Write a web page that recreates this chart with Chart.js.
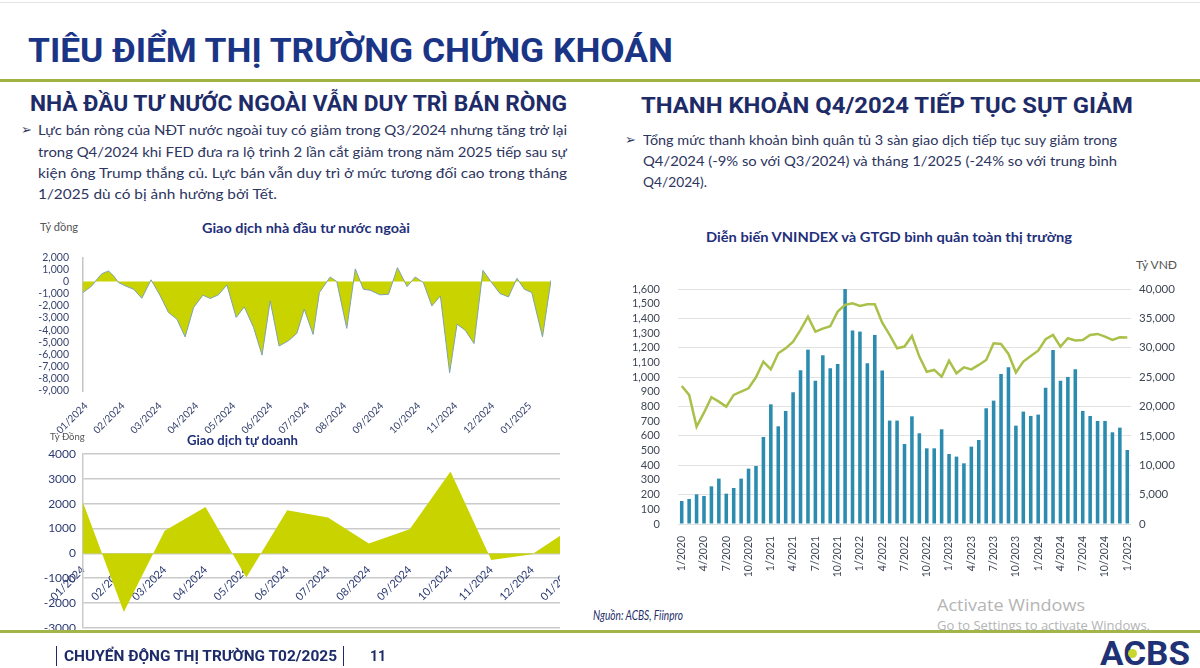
<!DOCTYPE html>
<html lang="vi">
<head>
<meta charset="utf-8">
<title>Tiêu điểm thị trường chứng khoán</title>
<script src="https://cdn.jsdelivr.net/npm/chart.js@4.4.1/dist/chart.umd.min.js"></script>
<style>
  body { margin: 0; width: 1200px; height: 668px; position: relative; overflow: hidden; background: #fff; font-family: Lato, "Open Sans", sans-serif; }
  .t { position: absolute; white-space: nowrap; transform-origin: 0 50%; }
  .tieude { font-family: Roboto; font-weight: 700; color: #1b3586; }
  .muc { font-family: Roboto; font-weight: 700; color: #1d2b68; }
  .van { font-size: 14px; line-height: 20px; color: #2d3560; }
  .dau { font-family: "DejaVu Sans"; font-size: 13px; line-height: 20px; color: #2d3560; }
  .bieu { font-weight: 700; font-size: 13px; line-height: 16px; color: #1f2f7a; }
  .donvi { color: #555; }
  .ke { position: absolute; left: 0; width: 1200px; }
  .dung { position: absolute; width: 1px; background: #1d2b68; }
  canvas { position: absolute; }
</style>
</head>
<body>
<div class="ke" style="top:2px;height:1px;background:#e4e4e4"></div>
<div class="t tieude" data-w="645" style="left:28px;top:30px;font-size:34px;line-height:40px">TIÊU ĐIỂM THỊ TRƯỜNG CHỨNG KHOÁN</div>
<div class="ke" style="top:79px;height:3px;background:#9fb343"></div>

<div class="t muc" data-w="537" style="left:30px;top:91px;font-size:22px;line-height:26px">NHÀ ĐẦU TƯ NƯỚC NGOÀI VẪN DUY TRÌ BÁN RÒNG</div>
<div class="t muc" data-w="492" style="left:641px;top:93px;font-size:22px;line-height:26px">THANH KHOẢN Q4/2024 TIẾP TỤC SỤT GIẢM</div>

<div class="t dau" style="left:21px;top:120px">➢</div>
<div class="t van" data-w="529" style="left:38px;top:120px">Lực bán ròng của NĐT nước ngoài tuy có giảm trong Q3/2024 nhưng tăng trở lại</div>
<div class="t van" data-w="529" style="left:38px;top:142px">trong Q4/2024 khi FED đưa ra lộ trình 2 lần cắt giảm trong năm 2025 tiếp sau sự</div>
<div class="t van" data-w="529" style="left:38px;top:163px">kiện ông Trump thắng củ. Lực bán vẫn duy trì ở mức tương đối cao trong tháng</div>
<div class="t van" data-w="239" style="left:38px;top:184px">1/2025 dù có bị ảnh hưởng bởi Tết.</div>

<div class="t dau" style="left:625px;top:130px">➢</div>
<div class="t van" data-w="474" style="left:643px;top:130px">Tổng mức thanh khoản bình quân tủ 3 sàn giao dịch tiếp tục suy giảm trong</div>
<div class="t van" data-w="474" style="left:643px;top:151px">Q4/2024 (-9% so với Q3/2024) và tháng 1/2025 (-24% so với trung bình</div>
<div class="t van" data-w="64" style="left:643px;top:172px">Q4/2024).</div>

<div class="t donvi" style="left:40px;top:219px;font-size:11px;line-height:16px">Tỷ đồng</div>
<div class="t bieu" data-w="208" style="left:202px;top:220px">Giao dịch nhà đầu tư nước ngoài</div>
<canvas id="nuocNgoai" width="546" height="190" style="left:14px;top:245px"></canvas>

<div class="t donvi" style="left:50px;top:430px;font-size:9.5px;line-height:14px">Tỷ Đồng</div>
<div class="t bieu" data-w="111" style="left:187px;top:432px">Giao dịch tự doanh</div>
<div style="position:absolute;left:0;top:440px;width:560px;height:200px;overflow:hidden">
  <canvas id="tuDoanh" width="580" height="202" style="left:14px;top:0"></canvas>
</div>

<div class="t bieu" data-w="366" style="left:706px;top:229px">Diễn biến VNINDEX và GTGD bình quân toàn thị trường</div>
<div class="t donvi" style="left:1136px;top:257px;font-size:12px;line-height:16px">Tỷ VNĐ</div>
<canvas id="thanhKhoan" width="600" height="312" style="left:600px;top:270px"></canvas>

<div class="t" data-w="90" style="left:593px;top:607px;font-size:13px;line-height:16px;font-style:italic;color:#1f2f6a">Nguồn: ACBS, Fiinpro</div>
<div class="t" data-w="148" style="left:937px;top:595px;font-family:'Open Sans';font-size:16px;line-height:20px;color:#b4b4b4">Activate Windows</div>
<div class="t" data-w="213" style="left:937px;top:618px;font-family:'Open Sans';font-size:12px;line-height:16px;color:#b4b4b4">Go to Settings to activate Windows.</div>

<div class="ke" style="top:630px;height:3px;background:#a2b548"></div>
<div class="dung" style="left:56px;top:646px;height:20px"></div>
<div class="t muc" data-w="273" style="left:64px;top:646px;font-size:15px;line-height:20px">CHUYỂN ĐỘNG THỊ TRƯỜNG T02/2025</div>
<div class="dung" style="left:343px;top:646px;height:20px"></div>
<div class="t muc" style="left:370px;top:646px;font-size:14px;line-height:20px">11</div>
<div class="t muc" data-w="90" style="left:1100px;top:636px;font-size:34px;line-height:34px;color:#1e3275">ACBS</div>
<div style="position:absolute;left:1128px;top:649px;width:9px;height:9px;border-radius:50%;background:#c9d62e"></div>

<script>
// Giao dịch nhà đầu tư nước ngoài (tỷ đồng); thời điểm tính theo tháng kể từ 01/2024
const thangNN = ['01/2024', '02/2024', '03/2024', '04/2024', '05/2024', '06/2024', '07/2024',
                 '08/2024', '09/2024', '10/2024', '11/2024', '12/2024', '01/2025'];
const thoiDiemNN = [-0.08, 0.16, 0.30, 0.43, 0.61, 0.75, 0.88, 1.11, 1.29, 1.51, 1.76, 2.01, 2.23, 2.46,
                    2.68, 2.91, 3.16, 3.36, 3.58, 3.81, 4.06, 4.28, 4.53, 4.76, 4.98, 5.22, 5.48, 5.70,
                    5.90, 6.14, 6.31, 6.60, 6.78, 7.05, 7.28, 7.50, 7.68, 7.95, 8.18, 8.42, 8.68, 8.90,
                    9.12, 9.35, 9.58, 9.83, 10.03, 10.25, 10.49, 10.73, 10.97, 11.19, 11.42, 11.65,
                    11.85, 12.05, 12.34, 12.57];
const giaTriNN = [-900, -350, 200, 650, 880, 470, -80, -410, -630, -1370, 150, -1180, -2540, -3090,
                  -4550, -2130, -1120, -1390, -1090, -270, -2950, -2080, -3770, -6050, -1580, -5300,
                  -4850, -4260, -2270, -4350, -900, 380, 0, -3850, 1050, -630, -710, -1090, -1040,
                  1150, -410, 380, -80, -2000, -1180, -7500, -3500, -4000, -5100, 930, -100, -980,
                  -1260, 270, -630, -900, -4550, 110];

// Giao dịch tự doanh (tỷ đồng)
const thangTD = ['01/2024', '02/2024', '03/2024', '04/2024', '05/2024', '06/2024', '07/2024',
                 '08/2024', '09/2024', '10/2024', '11/2024', '12/2024', '01/2025'];
const giaTriTD = [2050, -2360, 910, 1870, -975, 1740, 1450, 400, 975, 3300, -270, -30, 1050];

// VNINDEX (điểm) và GTGD bình quân toàn thị trường (tỷ VNĐ)
const thangTT = ['1/2020', '2/2020', '3/2020', '4/2020', '5/2020', '6/2020', '7/2020', '8/2020', '9/2020', '10/2020', '11/2020', '12/2020',
                 '1/2021', '2/2021', '3/2021', '4/2021', '5/2021', '6/2021', '7/2021', '8/2021', '9/2021', '10/2021', '11/2021', '12/2021',
                 '1/2022', '2/2022', '3/2022', '4/2022', '5/2022', '6/2022', '7/2022', '8/2022', '9/2022', '10/2022', '11/2022', '12/2022',
                 '1/2023', '2/2023', '3/2023', '4/2023', '5/2023', '6/2023', '7/2023', '8/2023', '9/2023', '10/2023', '11/2023', '12/2023',
                 '1/2024', '2/2024', '3/2024', '4/2024', '5/2024', '6/2024', '7/2024', '8/2024', '9/2024', '10/2024', '11/2024', '12/2024',
                 '1/2025'];
const nhanTT = ['1/2020', '4/2020', '7/2020', '10/2020', '1/2021', '4/2021', '7/2021', '10/2021', '1/2022', '4/2022', '7/2022',
                '10/2022', '1/2023', '4/2023', '7/2023', '10/2023', '1/2024', '4/2024', '7/2024', '10/2024', '1/2025'];
const vnindex = [940, 879, 663, 758, 863, 833, 799, 879, 901, 924, 999, 1106,
                 1053, 1162, 1196, 1242, 1321, 1412, 1310, 1330, 1346, 1446, 1492, 1503,
                 1485, 1496, 1496, 1371, 1287, 1196, 1208, 1280, 1140, 1037, 1049, 1003,
                 1112, 1026, 1067, 1053, 1083, 1117, 1230, 1226, 1158, 1031, 1106, 1144,
                 1180, 1258, 1287, 1208, 1265, 1249, 1253, 1287, 1294, 1276, 1253, 1271,
                 1269];
const gtgd = [3920, 4260, 5050, 4770, 6410, 7720, 5160, 6130, 7720, 9420, 9880, 14810,
              20370, 16630, 19240, 22420, 26160, 29680, 24400, 28720, 26500, 27240, 40000, 32920,
              32750, 27350, 32180, 26110, 17600, 17600, 13620, 18330, 15440, 12880, 12880, 16120,
              11920, 11470, 10330, 13170, 14300, 19700, 21000, 25540, 26670, 16740, 19130, 18390,
              18620, 23210, 29620, 24400, 25030, 26330, 19240, 18390, 17540, 17540, 15610, 16400,
              12600];

const mauVang = '#c9d300';
const soPhay = v => v.toLocaleString('en-US');
const khongChuThich = { legend: { display: false }, tooltip: { enabled: false } };

new Chart(document.getElementById('nuocNgoai'), {
    type: 'line',
    data: {
        datasets: [{
            data: giaTriNN.map((v, i) => ({ x: thoiDiemNN[i], y: v })),
            fill: 'origin',
            backgroundColor: mauVang,
            borderColor: '#7ea3b3',
            borderWidth: 1,
            pointRadius: 0,
            tension: 0
        }]
    },
    options: {
        responsive: false,
        animation: false,
        plugins: khongChuThich,
        layout: { padding: { top: 9, right: 9, bottom: 0, left: 0 } },
        scales: {
            x: {
                type: 'linear',
                min: -0.08,
                max: 12.57,
                afterBuildTicks: truc => { truc.ticks = thangNN.map((_, i) => ({ value: i })); },
                afterFit: truc => { truc.height = 44; },
                grid: { display: false },
                border: { display: false },
                ticks: {
                    autoSkip: false, minRotation: 45, maxRotation: 45, padding: 1,
                    color: '#34406b', font: { family: 'Lato', size: 10 },
                    callback: (v, i) => thangNN[i]
                }
            },
            y: {
                min: -9000,
                max: 2000,
                afterFit: truc => { truc.width = 69; },
                grid: { display: false },
                border: { color: '#c4c4c4', width: 1.5 },
                ticks: {
                    stepSize: 1000, autoSkip: false, padding: 6,
                    color: '#3a4670', font: { family: 'Lato', size: 10.5 },
                    callback: soPhay
                }
            }
        }
    }
});

new Chart(document.getElementById('tuDoanh'), {
    type: 'line',
    data: {
        labels: thangTD,
        datasets: [{
            data: giaTriTD,
            fill: 'origin',
            backgroundColor: mauVang,
            borderWidth: 0,
            pointRadius: 0,
            tension: 0
        }]
    },
    options: {
        responsive: false,
        animation: false,
        plugins: khongChuThich,
        layout: { padding: { top: 14, right: 21, bottom: 8, left: 0 } },
        scales: {
            x: {
                position: { y: 0 },
                grid: { display: false },
                border: { display: false },
                ticks: {
                    autoSkip: false, minRotation: 45, maxRotation: 45, padding: 2,
                    color: '#2d3b73', font: { family: 'Lato', size: 11 }
                }
            },
            y: {
                min: -3000,
                max: 4000,
                afterFit: truc => { truc.width = 69; },
                grid: { color: '#cacaca', lineWidth: 1.5, drawTicks: false },
                border: { color: '#cacaca', width: 1.5 },
                ticks: {
                    stepSize: 1000, autoSkip: false, padding: 7,
                    color: '#2d3b73', font: { family: 'Lato', size: 12 },
                    callback: v => String(v)
                }
            }
        }
    }
});

new Chart(document.getElementById('thanhKhoan'), {
    data: {
        labels: thangTT,
        datasets: [{
            type: 'line',
            label: 'VNINDEX',
            data: vnindex,
            yAxisID: 'trai',
            borderColor: '#a9c14a',
            borderWidth: 2.5,
            pointRadius: 0,
            tension: 0,
            order: 0
        }, {
            type: 'bar',
            label: 'GTGD',
            data: gtgd,
            yAxisID: 'phai',
            backgroundColor: '#2b8cb0',
            categoryPercentage: 1,
            barPercentage: 0.48,
            order: 1
        }]
    },
    options: {
        responsive: false,
        animation: false,
        plugins: khongChuThich,
        layout: { padding: { top: 19, right: 0, bottom: 0, left: 0 } },
        scales: {
            x: {
                afterFit: truc => { truc.height = 58; },
                grid: { display: false },
                border: { display: false },
                ticks: {
                    autoSkip: false, minRotation: 90, maxRotation: 90, padding: 4,
                    color: '#3f4756', font: { family: 'Lato', size: 10.5 },
                    callback: (v, i) => nhanTT.includes(thangTT[i]) ? thangTT[i] : ''
                }
            },
            trai: {
                position: 'left',
                min: 0,
                max: 1600,
                afterFit: truc => { truc.width = 78; },
                grid: { display: false },
                border: { display: false },
                ticks: {
                    stepSize: 100, autoSkip: false, padding: 10,
                    color: '#3f4756', font: { family: 'Lato', size: 11 },
                    callback: soPhay
                }
            },
            phai: {
                position: 'right',
                min: 0,
                max: 40000,
                afterFit: truc => { truc.width = 69; },
                grid: { color: '#e2e2e2', drawTicks: false },
                border: { display: false },
                ticks: {
                    stepSize: 5000, padding: 8,
                    color: '#3f4756', font: { family: 'Lato', size: 11.5 },
                    callback: soPhay
                }
            }
        }
    }
});

// co giãn chữ cho vừa bề rộng như bản gốc
document.fonts.ready.then(() => {
    document.querySelectorAll('[data-w]').forEach(el => {
        const rong = el.getBoundingClientRect().width;
        el.style.transform = `scaleX(${el.dataset.w / rong})`;
    });
});
</script>
</body>
</html>
